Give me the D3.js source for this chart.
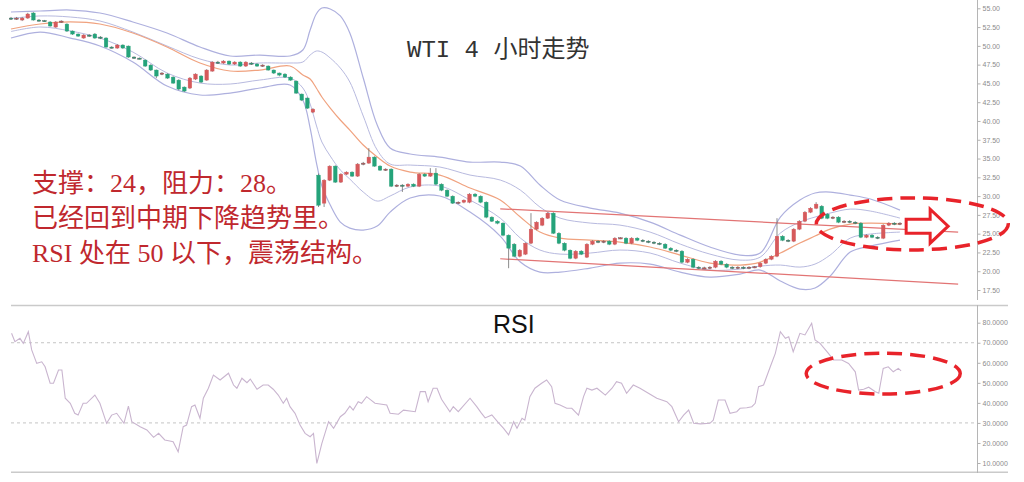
<!DOCTYPE html>
<html><head><meta charset="utf-8">
<script src="https://cdn.jsdelivr.net/npm/d3@7"></script>
<style>body{margin:0;background:#fff}svg{display:block}</style>
</head><body><svg id="c" width="1024" height="482"></svg>
<script>
// ---- candle data (4h WTI) ----
const opens=[53.70,53.57,53.44,53.70,54.37,53.44,53.37,53.17,52.50,53.17,
52.90,51.97,51.57,51.04,51.44,51.57,51.17,51.04,49.84,49.71,
50.11,49.97,48.51,48.37,48.11,47.44,46.78,46.24,46.24,45.84,
45.44,44.51,44.38,45.58,45.98,45.44,46.64,47.84,47.71,47.97,
47.58,47.84,47.31,47.71,47.58,47.31,47.31,46.78,46.38,46.24,
45.84,45.31,43.58,43.05,41.18,32.79,29.06,32.12,33.99,31.86,
32.92,33.19,32.66,34.26,34.39,35.19,33.99,33.46,33.59,31.32,
31.46,31.32,31.59,31.32,32.92,32.66,33.06,31.59,30.79,29.99,
29.06,29.19,29.19,30.26,29.99,29.19,27.20,26.66,26.40,24.80,
23.60,22.00,22.27,23.73,25.60,26.13,27.06,27.73,25.06,23.73,
22.80,21.73,22.67,21.87,23.60,24.00,23.87,24.00,23.60,24.40,
24.40,23.73,24.40,24.13,24.00,23.87,23.73,23.60,23.07,22.80,
22.67,21.20,21.60,20.54,20.40,20.45,20.54,21.34,20.94,20.54,
20.40,20.54,20.40,20.54,20.60,21.07,21.60,22.00,24.66,24.13,
24.00,25.60,26.66,27.86,28.39,28.66,27.60,27.06,27.20,26.53,
26.66,26.53,26.40,24.53,24.80,24.53,24.40,26.13,26.40,26.26];
const closes=[53.57,53.70,53.70,54.24,53.44,53.37,53.30,52.64,53.17,53.30,
51.97,51.57,51.30,51.44,51.30,51.04,51.04,49.84,49.77,50.11,
49.71,48.51,48.37,48.31,47.31,46.78,45.98,46.38,45.71,45.04,
44.25,43.98,45.71,46.24,45.18,46.78,47.84,47.71,47.97,47.58,
47.84,47.31,47.84,47.58,47.31,47.44,46.78,46.38,46.11,45.84,
45.44,43.71,42.78,41.71,41.58,28.79,32.12,33.99,31.86,32.92,
33.19,32.66,34.26,34.39,35.19,33.99,33.46,33.59,31.32,31.46,
31.32,31.59,31.32,32.92,32.66,33.06,31.59,30.79,29.99,29.06,
29.19,29.46,30.26,29.99,29.19,27.20,26.66,26.40,24.80,23.07,
22.00,22.80,23.73,25.60,26.53,27.06,27.73,25.06,23.73,22.80,
21.73,22.67,22.27,23.60,24.00,23.87,24.00,23.60,24.40,24.45,
23.73,24.40,24.13,24.00,23.87,23.73,23.60,23.07,22.80,22.67,
21.20,21.60,20.54,20.40,20.45,20.54,21.34,20.94,20.54,20.40,
20.54,20.40,20.54,20.60,21.07,21.60,22.00,24.66,24.13,24.00,
25.60,26.66,27.86,28.39,28.93,27.06,27.06,27.20,26.53,26.66,
26.53,26.40,24.53,24.80,24.53,24.40,26.13,26.40,26.26,26.40];
const highs=[53.85,53.85,53.85,54.40,54.50,53.55,53.45,53.30,53.30,53.40,
53.00,52.05,51.65,51.55,51.55,51.70,51.30,51.15,49.95,50.25,
50.20,50.05,48.60,48.45,48.20,47.55,46.85,46.50,46.35,45.95,
45.55,44.60,45.85,46.35,46.10,46.90,47.95,48.00,48.10,48.05,
47.95,47.95,47.95,47.85,47.70,47.55,47.40,46.85,46.45,46.35,
45.95,45.40,43.65,43.15,41.70,33.00,32.25,34.10,34.10,33.05,
33.30,33.30,34.40,34.55,36.39,35.30,34.10,33.70,33.70,31.60,
31.60,31.70,31.70,33.05,33.05,33.72,33.72,31.70,30.90,30.10,
29.30,29.55,30.40,30.40,30.10,29.30,27.30,26.80,26.50,24.90,
23.75,22.95,23.85,27.73,26.65,27.20,27.86,27.86,25.20,23.85,
22.90,22.80,22.80,23.73,24.13,24.13,24.13,24.13,24.53,24.53,
24.53,24.53,24.53,24.27,24.13,24.00,23.87,23.73,23.20,22.93,
22.80,21.73,21.73,20.67,20.60,20.67,21.47,21.47,21.07,20.67,
20.67,20.67,20.67,20.70,21.20,21.73,22.13,27.06,24.80,24.27,
25.73,26.80,28.00,28.53,29.19,28.80,27.73,27.33,27.33,26.80,
26.80,26.66,26.53,24.93,24.93,24.66,26.26,26.53,26.53,26.53];
const lows=[53.45,53.45,53.30,53.60,53.35,53.25,53.20,52.55,52.40,53.05,
51.85,51.45,51.20,50.95,51.20,50.95,50.90,49.75,49.65,49.60,
49.60,48.40,48.25,48.20,47.20,46.65,45.70,46.10,45.60,44.95,
44.10,43.85,44.25,45.45,45.05,45.35,46.55,47.60,47.60,47.45,
47.45,47.20,47.20,47.45,47.20,47.20,46.70,46.25,45.95,45.75,
45.35,43.60,42.65,41.60,41.05,28.55,28.55,32.00,31.75,31.75,
32.80,32.55,32.55,34.10,34.30,33.90,33.35,33.35,31.20,31.20,
30.55,31.20,31.20,31.20,32.55,32.55,31.45,30.65,29.85,28.95,
28.95,29.05,29.05,29.85,29.05,27.05,26.55,26.25,24.65,20.40,
21.85,21.85,22.15,23.60,25.45,26.00,26.95,24.95,23.60,22.65,
21.60,21.60,22.15,21.75,23.47,23.73,23.73,23.47,23.47,24.27,
23.60,23.60,24.00,23.87,23.73,23.60,23.47,22.95,22.67,22.53,
21.07,21.07,20.40,20.27,20.27,20.27,20.40,20.80,20.40,20.27,
20.27,20.27,20.27,20.40,20.47,20.94,21.47,21.87,24.00,23.87,
23.87,25.47,26.53,27.73,28.26,26.93,26.93,26.93,26.40,26.40,
26.40,26.26,24.40,24.40,24.40,24.27,24.27,26.00,26.13,26.13];

// ---- band readings (sampled at candle positions) ----
const bandX=[0,5.2,10.6,15.9,21.8,27.9,33.8,39.2,44.5,49.9,52.2,53.5,54.6,55.6,57.1,58.9,60.6,63,65.5,67.8,71.4,76.7,82.1,87.5,91.1,94.6,98.2,103.6,108.9,114.3,119.7,125,130.4,134,137.6,141.1,143.8,146.5,150.1,153.7,159];
const upperOuter=[54.51,54.64,54.77,54.37,53.18,51.71,49.85,48.65,48.78,48.65,49.45,52.11,54.24,55.04,54.91,53.98,51.71,45.72,39.46,36.40,35.60,35.20,34.53,34.53,34.00,31.47,29.47,28.41,27.74,26.54,24.81,23.22,22.15,22.42,27.21,29.47,30.41,30.54,30.14,29.61,28.14];
const upperInner=[53.64,53.98,53.84,53.31,51.84,49.98,48.25,47.45,47.72,47.72,47.85,48.78,49.31,49.18,48.38,47.05,45.19,40.66,36.13,34.27,34.13,33.87,32.80,32.14,30.80,28.54,27.07,26.41,26.14,25.21,23.61,22.28,21.48,21.88,25.08,26.54,27.21,27.74,28.27,28.01,27.07];
const movingAvg=[52.24,52.91,53.18,52.91,51.71,49.85,47.72,46.65,46.78,47.32,46.12,45.58,44.39,43.19,41.72,40.13,38.79,36.80,35.20,34.00,33.20,32.80,31.07,29.47,27.21,25.21,24.41,24.15,23.88,23.22,22.15,21.08,20.82,21.22,22.42,23.75,24.68,25.61,26.28,26.41,26.28];
const lowerInner=[51.91,52.51,51.98,51.04,49.18,46.39,45.05,44.92,45.45,45.72,44.39,42.26,39.46,37.20,35.33,33.47,32.27,30.54,29.34,30.01,31.21,31.34,29.47,27.07,24.41,22.82,22.28,22.42,22.82,22.42,21.08,20.15,20.29,20.68,20.82,20.55,20.95,22.15,24.41,24.95,25.21];
const lowerOuter=[51.04,51.84,51.04,49.98,47.85,44.65,43.46,43.72,44.39,44.79,42.79,39.06,34.53,31.34,28.81,26.54,25.74,25.48,26.01,27.87,29.74,30.01,27.87,24.68,21.22,19.88,19.88,20.42,21.08,20.95,19.88,19.22,19.62,20.15,18.69,17.62,17.77,19.35,22.55,23.35,24.15];

// ---- trend lines ----
const trendX=[87.5,169.4];
const resistanceLine=[28.31,25.21];
const supportLine=[21.66,18.29];

// ---- RSI ----
const rsiIdx=[0.1,0.7,1.6,2.2,3.1,3.7,4.6,5.5,6.1,7.0,
7.6,8.5,9.1,9.7,10.6,11.4,12.0,12.9,13.5,15.0,
15.9,17.1,18.0,18.9,20.2,21.0,21.6,23.1,24.3,25.5,
26.4,27.5,28.4,29.0,29.9,30.8,31.4,32.3,32.9,33.8,
34.4,35.3,36.2,37.4,38.9,39.8,40.4,41.3,42.2,42.8,
44.0,45.1,46.0,46.9,47.8,48.7,49.3,49.9,50.8,51.7,
52.6,53.5,54.1,54.7,55.6,56.8,57.7,58.9,59.7,60.6,
61.2,62.1,62.7,63.6,65.1,67.2,67.8,69.3,70.2,72.3,
73.2,74.1,74.6,75.5,76.2,77.0,78.5,79.1,80.0,82.1,
83.3,84.1,84.8,86.0,87.2,88.1,89.0,89.9,90.5,91.4,
91.9,92.8,93.7,94.9,95.8,96.7,97.3,98.2,99.4,100.3,
101.5,102.4,103.0,103.9,104.8,106.3,107.5,108.3,109.2,110.1,
111.3,112.5,114.0,115.5,117.3,118.2,119.4,120.3,121.2,122.1,
123.3,125.0,125.6,126.5,127.7,128.6,129.8,130.4,131.6,132.5,
133.1,133.7,134.6,135.8,136.7,137.6,138.5,139.1,139.9,141.1,
142.0,143.2,143.8,144.7,146.2,147.1,148.6,149.8,151.0,151.6,
152.5,153.4,154.6,155.2,156.0,156.9,157.8,158.7,159.2];
const rsiVal=[74.7,70.5,72.2,69.7,75.5,66.4,59.7,60.5,58.0,49.8,
49.8,56.4,56.4,42.3,39.8,34.8,33.9,39.8,39.8,43.9,
39.8,29.8,33.9,34.8,29.8,38.4,30.6,28.1,26.5,22.8,
24.8,21.5,21.0,20.6,15.6,28.1,28.9,38.1,38.9,32.3,
42.3,47.3,53.9,51.4,54.8,48.9,47.3,52.3,50.1,51.9,
46.8,48.9,48.9,46.8,43.9,39.8,42.3,38.1,34.8,28.9,
24.8,23.1,24.8,9.8,19.8,30.6,27.3,33.1,34.8,38.4,
36.4,40.6,39.8,43.1,39.8,38.9,34.8,34.3,36.4,35.6,
45.6,45.6,40.6,47.3,47.3,41.8,35.6,38.1,35.6,42.3,
38.1,35.0,32.5,34.0,30.0,27.3,24.0,30.6,27.3,32.3,
31.4,43.1,47.3,49.8,51.4,48.1,39.8,38.9,37.3,37.3,
33.9,43.1,47.3,46.4,47.3,43.9,47.3,50.6,49.8,44.8,
48.9,47.3,44.8,42.3,40.6,38.1,30.6,33.9,36.4,29.8,
29.5,29.8,31.4,41.4,41.4,34.8,35.6,37.3,37.6,38.1,
39.8,48.1,48.9,58.0,64.7,75.5,72.2,73.0,65.5,74.7,
73.9,79.7,71.4,69.7,64.7,61.4,61.4,59.7,55.5,46.4,
46.8,47.8,45.6,44.8,57.2,58.0,55.5,57.2,56.0];

const priceTicks=[17.5,20,22.5,25,27.5,30,32.5,35,37.5,40,42.5,45,47.5,50,52.5,55];
const rsiTicks=[10,20,30,40,50,60,70,80];
const rsiLevels=[30,70];
const titleText="WTI 4 小时走势";
const noteLines=["支撑：24，阻力：28。","已经回到中期下降趋势里。","RSI 处在 50 以下，震荡结构。"];

// ---- scales ----
const svg=d3.select('#c');
const x=d3.scaleLinear().domain([0,159]).range([11,900]);
const y=d3.scaleLinear().domain([17.5,55]).range([290,8.3]);
const yr=d3.scaleLinear().domain([10,80]).range([463,322.7]);

// panel frame
const frame=svg.append('g');
frame.append('line').attr('x1',11).attr('x2',1008).attr('y1',305.5).attr('y2',305.5).attr('stroke','#cacaca').attr('stroke-width',1.6);
frame.append('line').attr('x1',11).attr('x2',1008).attr('y1',472.3).attr('y2',472.3).attr('stroke','#cacaca').attr('stroke-width',1.6);
frame.append('line').attr('x1',977.5).attr('x2',977.5).attr('y1',0).attr('y2',300).attr('stroke','#b5b5b5').attr('stroke-width',1);
frame.append('line').attr('x1',977.5).attr('x2',977.5).attr('y1',305).attr('y2',473).attr('stroke','#b5b5b5').attr('stroke-width',1);

// axes
function styleAxis(g){
  g.select('.domain').remove();
  g.selectAll('line').attr('stroke','#b0b0b0');
  g.selectAll('text').attr('fill','#8c8c8c').style('font-size','7px').style('font-family','Liberation Sans, Arial, sans-serif');
}
svg.append('g').attr('transform','translate(977.5,0)')
  .call(d3.axisRight(y).tickValues(priceTicks).tickFormat(d3.format('.2f')).tickSize(3).tickPadding(2)).call(styleAxis);
svg.append('g').attr('transform','translate(977.5,0)')
  .call(d3.axisRight(yr).tickValues(rsiTicks).tickFormat(d3.format('.4f')).tickSize(3).tickPadding(2)).call(styleAxis);

// bands
const curve=d3.curveCatmullRom.alpha(0.5);
const bandLine=d3.line().x((d,i)=>x(bandX[i])).y(d=>y(d)).curve(curve);
const bands=svg.append('g').attr('fill','none');
[[upperOuter,'#aeb0de',1.2],[upperInner,'#b8badf',1.0],[lowerInner,'#b8badf',1.0],[lowerOuter,'#aeb0de',1.2]].forEach(([arr,c,w])=>{
  bands.append('path').attr('d',bandLine(arr)).attr('stroke',c).attr('stroke-width',w);
});
bands.append('path').attr('d',bandLine(movingAvg)).attr('stroke','#f0a27f').attr('stroke-width',1.2);

// trend lines
const tl=d3.line().x((d,i)=>x(trendX[i])).y(d=>y(d));
svg.append('path').attr('d',tl(resistanceLine)).attr('fill','none').attr('stroke','#e27474').attr('stroke-width',1.2);
svg.append('path').attr('d',tl(supportLine)).attr('fill','none').attr('stroke','#e27474').attr('stroke-width',1.2);

// candles
const idx=d3.range(opens.length);
const up='#d65a5c', down='#25a37a';
const cg=svg.append('g');
cg.selectAll('line').data(idx).join('line')
  .attr('x1',i=>x(i)).attr('x2',i=>x(i))
  .attr('y1',i=>y(highs[i])).attr('y2',i=>y(lows[i]))
  .attr('stroke','#6f6f6f').attr('stroke-width',0.8);
cg.selectAll('rect').data(idx).join('rect')
  .attr('x',i=>x(i)-1.8).attr('width',3.6)
  .attr('y',i=>y(Math.max(opens[i],closes[i])))
  .attr('height',i=>Math.max(1.2,Math.abs(y(opens[i])-y(closes[i]))))
  .attr('fill',i=>closes[i]>=opens[i]?up:down)
  .attr('stroke',i=>Math.abs(y(opens[i])-y(closes[i]))<1.5?'#555':(closes[i]>=opens[i]?up:down))
  .attr('stroke-width',0.4);

// RSI
const rg=svg.append('g');
rsiLevels.forEach(v=>{
  rg.append('line').attr('x1',11).attr('x2',977).attr('y1',yr(v)).attr('y2',yr(v))
    .attr('stroke','#c4c4c4').attr('stroke-width',1).attr('stroke-dasharray','3,3');
});
const rl=d3.line().x((d,i)=>x(rsiIdx[i])).y(d=>yr(d));
rg.append('path').attr('d',rl(rsiVal)).attr('fill','none').attr('stroke','#c9b5cf').attr('stroke-width',1.1);
rg.append('text').attr('x',493).attr('y',333).text('RSI')
  .style('font-family','Liberation Sans, Arial, sans-serif').style('font-size','25px').attr('fill','#111');

// title & notes
svg.append('text').attr('x',407).attr('y',57).text(titleText)
  .style('font-family',"'Liberation Mono','Noto Sans CJK SC',monospace").style('font-size','24px').attr('fill','#333');
noteLines.forEach((t,k)=>{
  svg.append('text').attr('x',32).attr('y',192+k*35).text(t)
    .style('font-family',"'Liberation Serif','Noto Sans CJK SC',serif").style('font-size','26px').attr('fill','#c0282e');
});

// annotations (in data coordinates)
const red='#e8232a';
const ellTop={cx:161.2,cy:26.3,rx:96,ry:26};
svg.append('ellipse').attr('cx',x(ellTop.cx)).attr('cy',y(ellTop.cy)).attr('rx',ellTop.rx).attr('ry',ellTop.ry)
  .attr('fill','none').attr('stroke',red).attr('stroke-width',3.5).attr('stroke-dasharray','15,8');
const ellRsi={cx:156.0,cy:54.6,rx:77,ry:20.5};
svg.append('ellipse').attr('cx',x(ellRsi.cx)).attr('cy',yr(ellRsi.cy)).attr('rx',ellRsi.rx).attr('ry',ellRsi.ry)
  .attr('fill','none').attr('stroke',red).attr('stroke-width',3.5).attr('stroke-dasharray','15,8');
// hollow arrow
const ax0=x(160.1), ay=y(26.0);
const arrowPts=[[ax0,ay-7],[ax0+24,ay-7],[ax0+24,ay-17],[ax0+42,ay],[ax0+24,ay+17],[ax0+24,ay+7],[ax0,ay+7]];
svg.append('polygon').attr('points',arrowPts.map(p=>p.join(',')).join(' '))
  .attr('fill','#fff').attr('stroke',red).attr('stroke-width',3).attr('stroke-linejoin','miter');
</script>
</body></html>
